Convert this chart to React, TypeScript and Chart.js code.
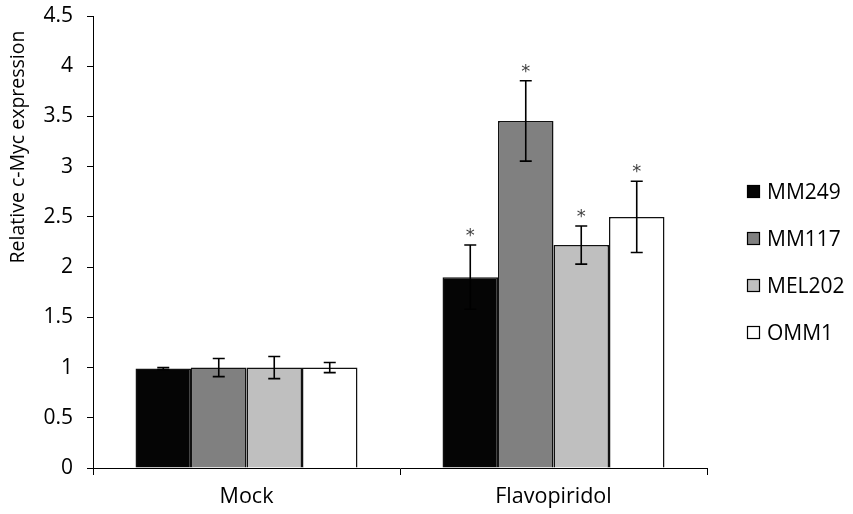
import React, { useEffect, useRef } from "react";
import { Chart, registerables } from "chart.js";

Chart.register(...registerables);

const categories = ["Mock", "Flavopiridol"];
const seriesNames = ["MM249", "MM117", "MEL202", "OMM1"];
const mm249 = [0.99, 1.9];
const mm117 = [1.0, 3.455];
const mel202 = [1.0, 2.22];
const omm1 = [1.0, 2.5];
const mm249Err = [0.01, 0.32];
const mm117Err = [0.09, 0.4];
const mel202Err = [0.11, 0.19];
const omm1Err = [0.05, 0.355];
const mm249Sig = [false, true];
const mm117Sig = [false, true];
const mel202Sig = [false, true];
const omm1Sig = [false, true];
const yMin = 0;
const yMax = 4.5;
const yStep = 0.5;
const yTitle = "Relative c-Myc expression";

const colors = ["#050505", "#808080", "#bfbfbf", "#ffffff"];
const FONT = "'Open Sans', Lato, sans-serif";

export default function App() {
  const ref = useRef<HTMLCanvasElement | null>(null);
  useEffect(() => {
    const values = [mm249, mm117, mel202, omm1];
    const errs = [mm249Err, mm117Err, mel202Err, omm1Err];
    const sigs = [mm249Sig, mm117Sig, mel202Sig, omm1Sig];

    const errPlugin = {
      id: "errbars",
      afterDatasetsDraw(chart: any) {
        const ctx = chart.ctx;
        const ys = chart.scales.y;
        ctx.save();
        ctx.strokeStyle = "#000";
        ctx.fillStyle = "#404040";
        ctx.lineWidth = 1.6;
        ctx.font = `18px 'DejaVu Sans', sans-serif`;
        ctx.textAlign = "center";
        ctx.textBaseline = "alphabetic";
        values.forEach((arr, i) => {
          const meta = chart.getDatasetMeta(i);
          arr.forEach((v, j) => {
            const bar = meta.data[j];
            const x = bar.x;
            const e = errs[i][j];
            const yt = ys.getPixelForValue(v + e);
            const yb = ys.getPixelForValue(v - e);
            ctx.beginPath();
            ctx.moveTo(x, yt);
            ctx.lineTo(x, yb);
            ctx.moveTo(x - 6, yt);
            ctx.lineTo(x + 6, yt);
            ctx.moveTo(x - 6, yb);
            ctx.lineTo(x + 6, yb);
            ctx.stroke();
            if (sigs[i][j]) {
              ctx.fillText("*", x, yt - 4);
            }
          });
        });
        ctx.restore();
      },
    };

    const overlayPlugin = {
      id: "overlay",
      afterDraw(chart: any) {
        const ctx = chart.ctx;
        ctx.save();
        ctx.font = `21px ${FONT}`;
        ctx.textBaseline = "middle";
        ctx.textAlign = "left";
        seriesNames.forEach((name, i) => {
          const cy = 192 + i * 47;
          ctx.fillStyle = colors[i];
          ctx.fillRect(747, cy - 7, 13, 13);
          ctx.strokeStyle = "#000";
          ctx.lineWidth = 1.2;
          ctx.strokeRect(747.5, cy - 6.5, 12, 12);
          ctx.fillStyle = "#000";
          ctx.fillText(name, 767, cy + 1);
        });
        // y-axis title
        ctx.translate(18, 147);
        ctx.rotate(-Math.PI / 2);
        ctx.textAlign = "center";
        ctx.font = `19.5px ${FONT}`;
        ctx.fillText(yTitle, 0, 0);
        ctx.restore();
      },
    };

    const chart = new Chart(ref.current as HTMLCanvasElement, {
      type: "bar",
      data: {
        labels: categories,
        datasets: seriesNames.map((n, i) => ({
          label: n,
          data: values[i],
          backgroundColor: colors[i],
          borderColor: "#111",
          borderWidth: 1.5,
          categoryPercentage: 0.723,
          barPercentage: 1.0,
        })),
      },
      options: {
        animation: false,
        responsive: false,
        layout: { padding: { top: 16, right: 146, bottom: 0, left: 0 } },
        plugins: { legend: { display: false }, tooltip: { enabled: false } },
        scales: {
          x: {
            grid: {
              display: true,
              drawOnChartArea: false,
              drawTicks: true,
              tickLength: 7,
              color: "#000",
              offset: true,
            },
            border: { color: "#000", width: 1 },
            ticks: { color: "#000", font: { size: 21.5, family: FONT }, padding: 9 },
            afterFit: (s: any) => {
              s.height = 46;
              s.paddingLeft = 0;
              s.paddingRight = 0;
            },
          },
          y: {
            min: yMin,
            max: yMax,
            ticks: {
              stepSize: yStep,
              color: "#000",
              font: { size: 21, family: FONT },
              padding: 14,
              callback: (v: any) => String(Number(v)),
            },
            grid: { drawOnChartArea: false, tickLength: 6, color: "#000" },
            border: { color: "#000", width: 1 },
            title: { display: false },
            afterFit: (s: any) => {
              s.width = 93;
              s.paddingTop = 0;
              s.paddingBottom = 0;
            },
          },
        },
      },
      plugins: [errPlugin, overlayPlugin],
    });
    return () => chart.destroy();
  }, []);
  return (
    <div style={{ position: "fixed", left: 0, top: 0, width: 853, height: 514, background: "#fff" }}>
      <canvas ref={ref} width={853} height={514} />
    </div>
  );
}
